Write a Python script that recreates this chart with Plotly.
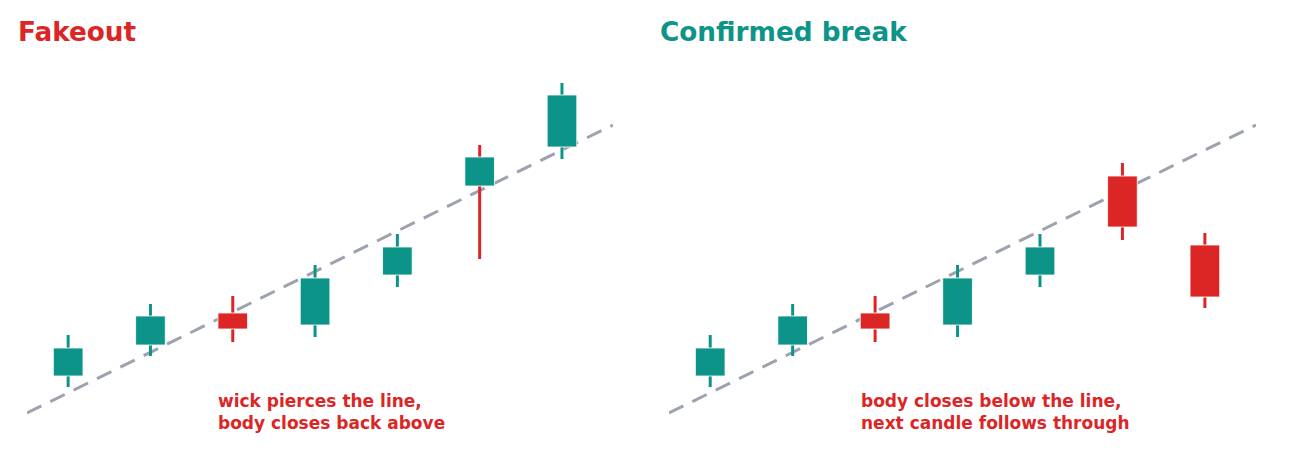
import plotly.graph_objects as go

# candle index
x = [0, 1, 2, 3, 4, 5, 6]

# first five candles are shared by both panels
open_base = [103.7, 106.8, 110.0, 108.8, 113.8]
close_base = [106.5, 109.7, 108.4, 113.5, 116.6]
high_base = [107.8, 110.9, 111.7, 114.8, 117.9]
low_base = [102.6, 105.7, 107.1, 107.6, 112.6]

# fakeout: long lower wick, closes back above
fake_open = open_base + [122.7, 126.6]
fake_close = close_base + [125.6, 131.8]
fake_high = high_base + [126.8, 133.0]
fake_low = low_base + [115.4, 125.4]
fake_wick_up = [True, True, False, True, True, False, True]

# confirmed break: closes below, follow-through
brk_open = open_base + [123.7, 116.8]
brk_close = close_base + [118.6, 111.6]
brk_high = high_base + [125.0, 118.0]
brk_low = low_base + [117.3, 110.5]

trend_x = [-0.5, 6.62]
trend_y = [100.0, 128.8]

TEAL = "#0d9488"
RED = "#dc2626"
GRAY = "#9ca3af"

W, H = 1274, 454

fig = go.Figure()


def add_panel(o, c, h, l, wick_up, xa, ya):
    fig.add_trace(go.Scatter(x=trend_x, y=trend_y, mode="lines",
                             line=dict(color=GRAY, width=3, dash="16px,10px"),
                             xaxis=xa, yaxis=ya, zorder=0))
    for i in range(len(x)):
        up = wick_up[i] if wick_up else c[i] >= o[i]
        fig.add_trace(go.Scatter(x=[x[i], x[i]], y=[l[i], h[i]], mode="lines",
                                 line=dict(color=TEAL if up else RED, width=3),
                                 xaxis=xa, yaxis=ya, zorder=1))
    fig.add_trace(go.Bar(
        x=x,
        y=[abs(ci - oi) for oi, ci in zip(o, c)],
        base=[min(oi, ci) for oi, ci in zip(o, c)],
        width=0.36,
        marker=dict(color=[TEAL if ci >= oi else RED for oi, ci in zip(o, c)],
                    line=dict(color="rgba(255,255,255,0.8)", width=1)),
        xaxis=xa, yaxis=ya, zorder=2))


add_panel(fake_open, fake_close, fake_high, fake_low, fake_wick_up, "x", "y")
add_panel(brk_open, brk_close, brk_high, brk_low, None, "x2", "y2")

ax = dict(visible=False, range=[-0.5, 6.62], fixedrange=True)
ay = dict(visible=False, range=[96.3, 135.3], fixedrange=True)

fig.update_layout(
    width=W, height=H,
    margin=dict(l=0, r=0, t=52, b=12),
    paper_bgcolor="white", plot_bgcolor="white",
    showlegend=False, hovermode=False, barmode="overlay",
    font=dict(family="DejaVu Sans"),
    xaxis=dict(ax, domain=[19 / W, 605 / W]),
    xaxis2=dict(ax, domain=[661 / W, 1248 / W], anchor="y2"),
    yaxis=dict(ay),
    yaxis2=dict(ay, anchor="x2"),
)

fig.add_annotation(text="<b>Fakeout</b>", xref="paper", yref="paper",
                   x=8 / W, y=1.071, xanchor="left", yanchor="middle",
                   showarrow=False, font=dict(size=26.3, color=RED))
fig.add_annotation(text="<b>Confirmed break</b>", xref="paper", yref="paper",
                   x=650 / W, y=1.071, xanchor="left", yanchor="middle",
                   showarrow=False, font=dict(size=26.3, color=TEAL))

fig.add_annotation(text="<b>wick pierces the line,<br>body closes back above</b>",
                   xref="x", yref="y", x=1.8, y=100.1, xanchor="left",
                   yanchor="middle", align="left", showarrow=False,
                   font=dict(size=17, color=RED))
fig.add_annotation(text="<b>body closes below the line,<br>next candle follows through</b>",
                   xref="x2", yref="y2", x=1.8, y=100.1, xanchor="left",
                   yanchor="middle", align="left", showarrow=False,
                   font=dict(size=17, color=RED))

fig.write_html("out.html")
